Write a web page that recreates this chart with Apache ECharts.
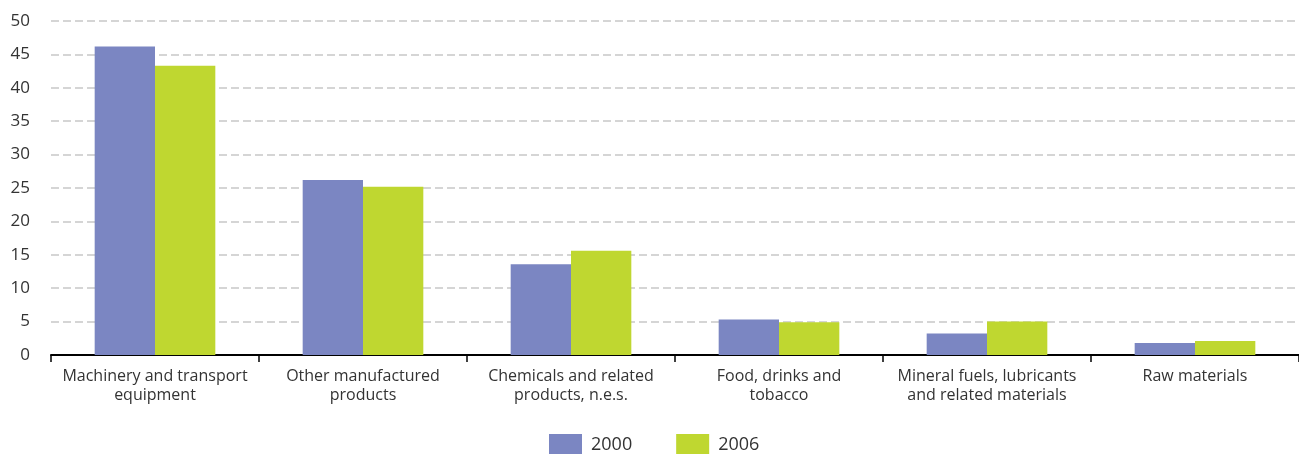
<!DOCTYPE html>
<html>
<head>
<meta charset="utf-8">
<script src="https://cdn.jsdelivr.net/npm/echarts@6/dist/echarts.min.js"></script>
<style>
  html, body { margin: 0; padding: 0; background: #fff; }
  #chart { width: 1299px; height: 454px; }
</style>
</head>
<body>
<div id="chart"></div>
<script>
// categories and values (percent share)
const categories = [
  "Machinery and transport\nequipment",
  "Other manufactured\nproducts",
  "Chemicals and related\nproducts, n.e.s.",
  "Food, drinks and\ntobacco",
  "Mineral fuels, lubricants\nand related materials",
  "Raw materials"
];
const values2000 = [46.2, 26.2, 13.6, 5.3, 3.2, 1.8];
const values2006 = [43.3, 25.2, 15.6, 4.9, 5.0, 2.1];
const yTicks = [0, 5, 10, 15, 20, 25, 30, 35, 40, 45, 50];

let myChart = echarts.init(document.getElementById("chart"));
let font = "'Open Sans', 'Noto Sans', sans-serif";
let option = {
  animation: false,
  color: ["#7b86c2", "#bfd730"],
  textStyle: { fontFamily: font },
  legend: {
    bottom: -6,
    left: 544,
    icon: "rect",
    itemWidth: 33,
    itemHeight: 21,
    itemGap: 44,
    textStyle: { fontSize: 18, color: "#333", fontFamily: font, padding: [0, 0, 0, 4] },
    data: ["2000", "2006"]
  },
  grid: { left: 51, right: 0, top: 21, bottom: 99 },
  xAxis: {
    type: "category",
    data: categories,
    axisLine: { lineStyle: { color: "#000", width: 2 } },
    axisTick: { show: true, interval: 0, length: 7, lineStyle: { color: "#000", width: 1.5 } },
    axisLabel: { interval: 0, color: "#333", fontSize: 16, lineHeight: 19, margin: 12, fontFamily: font }
  },
  yAxis: {
    type: "value",
    min: yTicks[0],
    max: yTicks[yTicks.length - 1],
    interval: 5,
    axisLine: { show: false },
    axisTick: { show: false },
    axisLabel: { color: "#333", fontSize: 17, margin: 21, fontFamily: font },
    splitLine: { lineStyle: { color: "#c8c8c8", width: 1.5, type: [8, 4] } }
  },
  series: [
    { name: "2000", type: "bar", data: values2000, barGap: "0%", barCategoryGap: "42%" },
    { name: "2006", type: "bar", data: values2006, barGap: "0%", barCategoryGap: "42%" }
  ]
};
myChart.setOption(option);
</script>
</body>
</html>
